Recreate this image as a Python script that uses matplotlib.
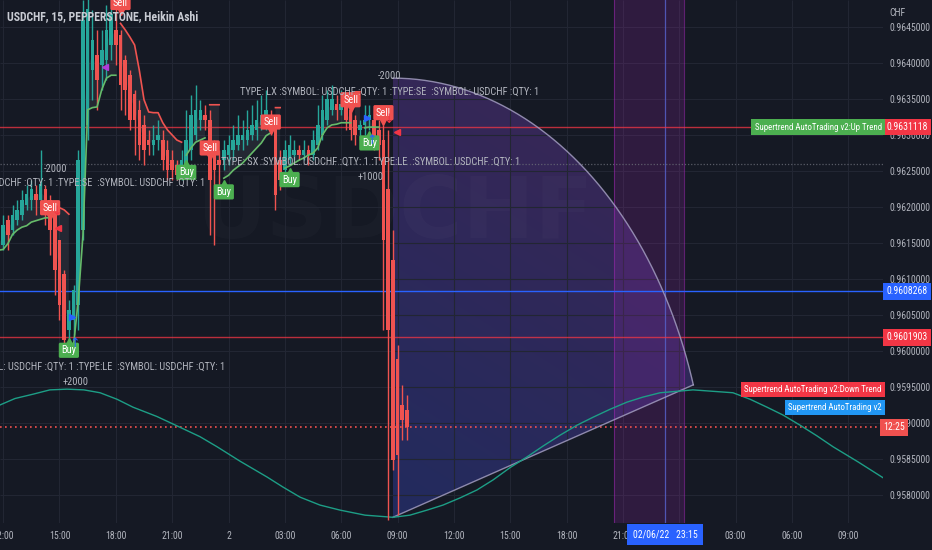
import numpy as np
import matplotlib
matplotlib.use("Agg")
import matplotlib.pyplot as plt
import matplotlib.transforms as mtransforms
from matplotlib import font_manager as fm
from matplotlib.patches import Polygon
from matplotlib.colors import to_rgb

# 15 minute Heikin Ashi bars, first bar at 11:45 on 1 June (x axis = hours from 1 June 00:00)
first_bar_hour = 11.75
bar_step = 0.25

ha_open = [0.96140, 0.96147, 0.96182, 0.96168, 0.96182, 0.96189, 0.96203, 0.96210, 0.96217, 0.96210,
           0.96224, 0.96210, 0.96189, 0.96154, 0.96106, 0.96029, 0.96043, 0.96064, 0.96168, 0.96314,
           0.96390, 0.96411, 0.96397, 0.96404, 0.96425, 0.96446, 0.96439, 0.96404, 0.96383, 0.96356,
           0.96335, 0.96314, 0.96293, 0.96286, 0.96293, 0.96293, 0.96279, 0.96265, 0.96258, 0.96251,
           0.96258, 0.96279, 0.96300, 0.96321, 0.96328, 0.96321, 0.96279, 0.96265, 0.96265, 0.96272,
           0.96279, 0.96286, 0.96293, 0.96293, 0.96300, 0.96307, 0.96314, 0.96321, 0.96328, 0.96321,
           0.96265, 0.96251, 0.96265, 0.96272, 0.96279, 0.96272, 0.96279, 0.96272, 0.96286, 0.96300,
           0.96321, 0.96335, 0.96342, 0.96335, 0.96342, 0.96335, 0.96321, 0.96307, 0.96314, 0.96321,
           0.96321, 0.96307, 0.96293, 0.96224, 0.96126, 0.95988, 0.95925, 0.95918]
ha_close = [0.96154, 0.96175, 0.96161, 0.96189, 0.96196, 0.96210, 0.96217, 0.96224, 0.96210, 0.96231,
            0.96203, 0.96168, 0.96113, 0.96064, 0.96015, 0.96057, 0.96085, 0.96265, 0.96460, 0.96474,
            0.96432, 0.96376, 0.96418, 0.96446, 0.96467, 0.96425, 0.96369, 0.96362, 0.96321, 0.96321,
            0.96286, 0.96279, 0.96286, 0.96293, 0.96300, 0.96265, 0.96251, 0.96251, 0.96244, 0.96265,
            0.96293, 0.96328, 0.96335, 0.96335, 0.96321, 0.96238, 0.96251, 0.96258, 0.96279, 0.96286,
            0.96293, 0.96300, 0.96300, 0.96307, 0.96314, 0.96321, 0.96328, 0.96335, 0.96314, 0.96217,
            0.96238, 0.96279, 0.96286, 0.96279, 0.96272, 0.96279, 0.96272, 0.96293, 0.96314, 0.96335,
            0.96349, 0.96349, 0.96335, 0.96342, 0.96321, 0.96307, 0.96300, 0.96314, 0.96321, 0.96328,
            0.96293, 0.96286, 0.96154, 0.96029, 0.95849, 0.95856, 0.95904, 0.95894]
ha_high = [0.96168, 0.96189, 0.96189, 0.96203, 0.96210, 0.96224, 0.96231, 0.96238, 0.96231, 0.96279,
           0.96231, 0.96217, 0.96196, 0.96154, 0.96113, 0.96071, 0.96092, 0.96279, 0.96488, 0.96515,
           0.96474, 0.96446, 0.96446, 0.96481, 0.96501, 0.96488, 0.96446, 0.96411, 0.96390, 0.96362,
           0.96349, 0.96328, 0.96307, 0.96314, 0.96321, 0.96307, 0.96293, 0.96279, 0.96265, 0.96279,
           0.96335, 0.96356, 0.96369, 0.96349, 0.96342, 0.96335, 0.96293, 0.96279, 0.96293, 0.96300,
           0.96314, 0.96328, 0.96321, 0.96335, 0.96342, 0.96349, 0.96356, 0.96362, 0.96335, 0.96328,
           0.96279, 0.96293, 0.96300, 0.96293, 0.96286, 0.96293, 0.96286, 0.96307, 0.96342, 0.96356,
           0.96362, 0.96369, 0.96356, 0.96362, 0.96349, 0.96349, 0.96328, 0.96321, 0.96342, 0.96342,
           0.96335, 0.96321, 0.96314, 0.96307, 0.96168, 0.96008, 0.95953, 0.95939]
ha_low = [0.96126, 0.96140, 0.96140, 0.96161, 0.96175, 0.96182, 0.96196, 0.96196, 0.96189, 0.96203,
          0.96175, 0.96133, 0.96078, 0.96043, 0.96001, 0.96008, 0.96022, 0.96029, 0.96154, 0.96293,
          0.96349, 0.96335, 0.96362, 0.96376, 0.96404, 0.96397, 0.96335, 0.96328, 0.96307, 0.96272,
          0.96265, 0.96258, 0.96272, 0.96272, 0.96279, 0.96251, 0.96238, 0.96238, 0.96238, 0.96238,
          0.96251, 0.96265, 0.96293, 0.96307, 0.96307, 0.96161, 0.96147, 0.96224, 0.96251, 0.96258,
          0.96265, 0.96279, 0.96279, 0.96286, 0.96293, 0.96293, 0.96307, 0.96307, 0.96300, 0.96196,
          0.96224, 0.96244, 0.96258, 0.96265, 0.96265, 0.96265, 0.96258, 0.96265, 0.96279, 0.96293,
          0.96314, 0.96328, 0.96321, 0.96328, 0.96307, 0.96293, 0.96286, 0.96293, 0.96300, 0.96307,
          0.96279, 0.96265, 0.96029, 0.95765, 0.95835, 0.95772, 0.95876, 0.95876]

N = None
st_up = [0.96140, 0.96141, 0.96149, 0.96162, 0.96168, 0.96172, 0.96174, 0.96179, 0.96181, 0.96183,
         0.96185, 0.96185, N, N, N, N, 0.96008, 0.96071, 0.96161, 0.96335,
         0.96338, 0.96339, 0.96363, 0.96379, 0.96383, 0.96383, N, N, N, N,
         N, N, N, N, N, N, N, N, N, N,
         0.96272, 0.96282, 0.96290, 0.96293, 0.96296, N, N, N, 0.96240, 0.96244,
         0.96251, 0.96256, 0.96261, 0.96268, 0.96275, 0.96282, 0.96289, 0.96299, 0.96303, N,
         N, 0.96254, 0.96257, 0.96261, 0.96265, 0.96268, 0.96272, 0.96275, 0.96282, 0.96300,
         0.96310, 0.96314, 0.96315, 0.96317, 0.96317, 0.96317, N, N, 0.96310, 0.96311,
         0.96311, 0.96311, N, N, N, N, N, N]
st_down = [N, N, N, N, N, N, N, N, N, N,
           N, N, 0.96199, 0.96199, 0.96196, 0.96190, N, N, N, N,
           N, N, N, N, N, N, 0.96455, 0.96446, 0.96436, 0.96425,
           0.96390, 0.96349, 0.96332, 0.96331, 0.96331, 0.96317, 0.96307, 0.96300, 0.96293, 0.96290,
           N, N, N, N, N, 0.96342, 0.96342, 0.96342, N, N,
           N, N, N, N, N, N, N, N, N, 0.96338,
           0.96338, N, N, N, N, N, N, N, N, N,
           N, N, N, N, N, N, 0.96360, 0.96360, N, N,
           N, N, N, N, N, N, N, N]

buy_hours = [15.5, 21.75, 23.75, 27.25, 31.5]
buy_prices = [0.96001, 0.96248, 0.96221, 0.96238, 0.96289]
sell_hours = [14.5, 18.25, 23.0, 26.25, 30.5, 32.25]
sell_prices = [0.96199, 0.96484, 0.96282, 0.96318, 0.96349, 0.96331]

order_hours = [14.8, 15.85, 31.55, 32.55]
order_qty = ["-2000", "+2000", "+1000", "-2000"]
order_qty_prices = [0.96253, 0.95957, 0.96242, 0.96382]
order_text = ["TYPE: LX :SYMBOL: USDCHF :QTY: 1 :TYPE:SE  :SYMBOL: USDCHF :QTY: 1",
              "TYPE: SX :SYMBOL: USDCHF :QTY: 1 :TYPE:LE  :SYMBOL: USDCHF :QTY: 1",
              "TYPE: SX :SYMBOL: USDCHF :QTY: 1 :TYPE:LE  :SYMBOL: USDCHF :QTY: 1",
              "TYPE: LX :SYMBOL: USDCHF :QTY: 1 :TYPE:SE  :SYMBOL: USDCHF :QTY: 1"]
order_text_prices = [0.96233, 0.95978, 0.96263, 0.96360]

# teal wave indicator
wave_hours = [11.83, 12.63, 13.59, 14.49, 15.40, 16.30, 17.16, 18.06, 18.91, 20.19, 21.42, 22.48,
              23.39, 24.61, 26.05, 26.90, 27.81, 28.87, 29.94, 31.27, 32.76, 33.66, 34.57, 35.42,
              36.33, 37.23, 38.09, 38.99, 39.90, 40.75, 41.65, 42.56, 43.41, 44.31, 45.22, 46.07,
              46.98, 47.88, 48.73, 49.80, 50.86, 51.77, 52.67, 53.53, 54.43, 55.34, 56.19, 57.52, 58.85]
wave_prices = [0.95925, 0.95934, 0.95940, 0.95946, 0.95947, 0.95946, 0.95942, 0.95933, 0.95922, 0.95909,
               0.95894, 0.95881, 0.95867, 0.95847, 0.95825, 0.95811, 0.95797, 0.95786, 0.95779, 0.95772,
               0.95769, 0.95772, 0.95779, 0.95786, 0.95796, 0.95807, 0.95821, 0.95838, 0.95853, 0.95868,
               0.95883, 0.95897, 0.95908, 0.95919, 0.95929, 0.95936, 0.95942, 0.95944, 0.95946, 0.95944,
               0.95942, 0.95933, 0.95922, 0.95911, 0.95897, 0.95882, 0.95867, 0.95846, 0.95824]

# arc drawing anchors (hour, price)
arc_center = (32.75, 0.95769)
arc_top = (32.75, 0.96379)
arc_end = (48.75, 0.95953)

band_start, band_end = 44.5, 48.25
crosshair_hour = 47.25
crosshair_price = 0.9608268
red_levels = [0.9631118, 0.9601903]
last_price = 0.95894
gray_level = 0.96260

price_ticks = [0.9580, 0.9585, 0.9590, 0.9595, 0.9600, 0.9605, 0.9610, 0.9615, 0.9620, 0.9625,
               0.9630, 0.9635, 0.9640, 0.9645]
time_ticks = [12, 15, 18, 21, 24, 27, 30, 33, 36, 39, 42, 45, 48, 51, 54, 57]
time_labels = ["12:00", "15:00", "18:00", "21:00", "2", "03:00", "06:00", "09:00", "12:00", "15:00",
               "18:00", "21:00", "3", "03:00", "06:00", "09:00"]


def pick_family(names):
    for name in names:
        try:
            fm.findfont(fm.FontProperties(family=name), fallback_to_default=False)
            return name
        except ValueError:
            continue
    return "DejaVu Sans"


narrow = pick_family(["Liberation Sans Narrow", "Roboto Condensed", "Arial Narrow"])
if narrow == "DejaVu Sans":
    narrow = pick_family(["Liberation Sans", "Roboto"])
    fs = 0.85
else:
    fs = 1.0

BG = "#151924"
TXT = "#b2b5be"
UP = "#26a69a"
DOWN = "#ef5350"

fig = plt.figure(figsize=(9.32, 5.5), dpi=100, facecolor=BG)
ax = fig.add_axes([0, 27 / 550, 883 / 932, 523 / 550], facecolor=BG)
for s in ax.spines.values():
    s.set_visible(False)

xmin, xmax = 11.832, 58.85
ymin, ymax = 0.957611, 0.964875

# grid
ax.hlines(price_ticks, xmin, xmax, color="#222633", lw=0.8, zorder=1.5)
ax.vlines(time_ticks, ymin, ymax, color="#222633", lw=0.8, zorder=1.5)

# arc drawing with gradient fill
rp = arc_top[1] - arc_center[1]
th_end = np.arccos((arc_end[1] - arc_center[1]) / rp)
rt = (arc_end[0] - arc_center[0]) / np.sin(th_end)
th = np.linspace(0, th_end, 150)
arc_x = arc_center[0] + rt * np.sin(th)
arc_y = arc_center[1] + rp * np.cos(th)
sector = Polygon([arc_center] + list(zip(arc_x, arc_y)), closed=True, fc="none", ec="none")
ax.add_patch(sector)
u = np.linspace(0, 1, 200)[None, :]
v = np.linspace(0, 1, 200)[:, None]
t = np.clip(0.7 * v + 0.3 * u, 0, 1)[..., None]
c0 = np.array(to_rgb("#222b5e"))
c1 = np.array(to_rgb("#3c2655"))
img = c0 * (1 - t) + c1 * t
im = ax.imshow(img, extent=[arc_center[0], arc_end[0], arc_center[1], arc_top[1]],
               origin="lower", aspect="auto", zorder=1, interpolation="bilinear")
im.set_clip_path(sector)
ax.plot(arc_x, arc_y, color="#a29cc0", lw=1, alpha=0.85, zorder=4)
ax.plot([arc_center[0], arc_end[0]], [arc_center[1], arc_end[1]], color="#a29cc0", lw=1, alpha=0.85, zorder=4)

# highlighted date range
ax.axvspan(band_start, band_end, color="#9c27b0", alpha=0.2, lw=0, zorder=2)
for xv in (band_start, band_end):
    ax.axvline(xv, color="#9c27b0", alpha=0.55, lw=0.8, zorder=2)
ax.axvline(crosshair_hour, color="#5660c8", lw=0.9, alpha=0.85, zorder=3)

# watermark
ax.text(0.447, 0.59, "USDCHF", transform=ax.transAxes, ha="center", va="center",
        fontsize=62, fontweight="bold", color="white", alpha=0.018, family="DejaVu Sans", zorder=1)

# horizontal levels
for lv in red_levels:
    ax.axhline(lv, color="#f23645", lw=1, alpha=0.75, zorder=3)
ax.axhline(crosshair_price, color="#2962ff", lw=1, zorder=3)
ax.axhline(last_price, color="#f0514f", lw=1.2, ls=(0, (1, 2)), zorder=3)
ax.axhline(gray_level, color="#6a6d78", lw=0.9, ls=(0, (1, 1.5)), alpha=0.8, zorder=3)

# wave
ax.plot(wave_hours, wave_prices, color="#1d9e86", lw=1.0, zorder=4, solid_joinstyle="round")

# candles
o = np.array(ha_open)
c = np.array(ha_close)
h = np.array(ha_high)
l = np.array(ha_low)
tb = first_bar_hour + bar_step * np.arange(len(o))
cols = np.where(c >= o, UP, DOWN)

up = np.array([np.nan if vv is None else vv for vv in st_up])
dn = np.array([np.nan if vv is None else vv for vv in st_down])
mid = (o + c) / 2
ax.fill_between(tb, np.where(np.isfinite(up), up, mid), mid, where=np.isfinite(up),
                color="#787b86", alpha=0.16, lw=0, zorder=4)
ax.fill_between(tb, np.where(np.isfinite(dn), dn, mid), mid, where=np.isfinite(dn),
                color="#787b86", alpha=0.16, lw=0, zorder=4)

ax.vlines(tb, l, h, colors=cols, lw=1, zorder=5)
ax.bar(tb, np.abs(c - o) + 0.000004, bottom=np.minimum(o, c), width=0.19, color=cols, lw=0, zorder=5)

ax.plot(tb, up, color="#66bb6a", lw=1.2, zorder=6)
ax.plot(tb, dn, color="#ef5350", lw=1.2, zorder=6)

# buy / sell labels
dots = fig.dpi_scale_trans
for xh, yp in zip(buy_hours, buy_prices):
    ax.text(xh, yp, "Buy", ha="center", va="center", color="white", fontsize=7.5 * fs, family=narrow,
            zorder=9, bbox=dict(boxstyle="round,pad=0.25,rounding_size=0.15", fc="#4caf50", ec="none"))
    tr = ax.transData + mtransforms.ScaledTranslation(0, 9 / 100, dots)
    ax.plot(xh, yp, marker="^", ms=4, color="#4caf50", transform=tr, zorder=9)
for xh, yp in zip(sell_hours, sell_prices):
    ax.text(xh, yp, "Sell", ha="center", va="center", color="white", fontsize=7.5 * fs, family=narrow,
            zorder=9, bbox=dict(boxstyle="round,pad=0.25,rounding_size=0.15", fc="#f0514f", ec="none"))
    tr = ax.transData + mtransforms.ScaledTranslation(0, -9 / 100, dots)
    ax.plot(xh, yp, marker="v", ms=4, color="#f0514f", transform=tr, zorder=9)

# strategy arrows and small triangles
ax.text(15.83, 0.96011, "\u2191", color="#2962ff", fontsize=9, ha="center", va="center", zorder=10, family="DejaVu Sans")
ax.text(31.64, 0.96293, "\u2191", color="#2962ff", fontsize=9, ha="center", va="center", zorder=10, family="DejaVu Sans")
ax.text(14.87, 0.96194, "\u2193", color="#f23645", fontsize=9, ha="center", va="center", zorder=10, family="DejaVu Sans")
ax.text(32.54, 0.96321, "\u2193", color="#f23645", fontsize=9, ha="center", va="center", zorder=10, family="DejaVu Sans")
ax.plot([17.42], [0.96394], marker="<", ms=4, color="#b03ad8", zorder=10)
ax.plot([14.92, 32.97], [0.96171, 0.96304], ls="none", marker="<", ms=4, color="#f23645", zorder=10)
ax.plot([15.67, 31.37], [0.96047, 0.96324], ls="none", marker=">", ms=4, color="#2962ff", zorder=10)

# order comments
for xh, q, qp, txt, tp in zip(order_hours, order_qty, order_qty_prices, order_text, order_text_prices):
    ax.text(xh, qp, q, ha="center", va="center", color=TXT, fontsize=7.5 * fs, family=narrow, zorder=11, clip_on=True)
    ax.text(xh, tp, txt, ha="center", va="center", color=TXT, fontsize=7.5 * fs, family=narrow, zorder=11, clip_on=True)

# axes, ticks
ax.set_xlim(xmin, xmax)
ax.set_ylim(ymin, ymax)
ax.yaxis.tick_right()
ax.set_yticks(price_ticks)
ax.set_yticklabels([f"{p:.7f}" for p in price_ticks])
ax.set_xticks(time_ticks)
ax.set_xticklabels(time_labels)
ax.tick_params(axis="y", length=0, pad=5, labelsize=7 * fs, labelcolor=TXT)
ax.tick_params(axis="x", length=0, pad=6, labelsize=7 * fs, labelcolor=TXT)
for lab in ax.get_xticklabels() + ax.get_yticklabels():
    lab.set_family(narrow)

right = mtransforms.blended_transform_factory(ax.transAxes, ax.transData)


def price_tag(price, text, color):
    ax.text(1.004, price, text, transform=right, ha="left", va="center", color="white",
            fontsize=7 * fs, family=narrow, clip_on=False, zorder=20,
            bbox=dict(boxstyle="square,pad=0.35", fc=color, ec="none"))


price_tag(red_levels[0], f"{red_levels[0]:.7f}", "#f23645")
price_tag(crosshair_price, f"{crosshair_price:.7f}", "#2962ff")
price_tag(red_levels[1], f"{red_levels[1]:.7f}", "#f23645")
ax.text(1.0, last_price, "12:25", transform=right, ha="left", va="center", color="white",
        fontsize=7 * fs, family=narrow, clip_on=False, zorder=20,
        bbox=dict(boxstyle="square,pad=0.35", fc="#f0514f", ec="none"))


def trend_tag(price, text, color):
    ax.text(0.9985, price, text, transform=right, ha="right", va="center", color="white",
            fontsize=6.4 * fs, family=narrow, zorder=20,
            bbox=dict(boxstyle="square,pad=0.35", fc=color, ec="none"))


trend_tag(0.96311, "Supertrend AutoTrading v2:Up Trend", "#4caf50")
trend_tag(0.95947, "Supertrend AutoTrading v2:Down Trend", "#f23645")
trend_tag(0.95921, "Supertrend AutoTrading v2", "#2196f3")

bottom = mtransforms.blended_transform_factory(ax.transData, ax.transAxes)
ax.text(crosshair_hour, -0.022, "02/06/22   23:15", transform=bottom, ha="center", va="center",
        color="white", fontsize=7 * fs, family=narrow, clip_on=False, zorder=20,
        bbox=dict(boxstyle="square,pad=0.6", fc="#2962ff", ec="none"))

fig.text(7 / 932, 1 - 17 / 550, "USDCHF, 15, PEPPERSTONE, Heikin Ashi", ha="left", va="center",
         color="#c8cbd3", fontsize=8.5 * fs, fontweight="bold", family=narrow)
fig.text(889 / 932, 1 - 13 / 550, "CHF", ha="left", va="center", color=TXT, fontsize=7 * fs, family=narrow)

fig.savefig("out.png", dpi=100, facecolor=BG)
